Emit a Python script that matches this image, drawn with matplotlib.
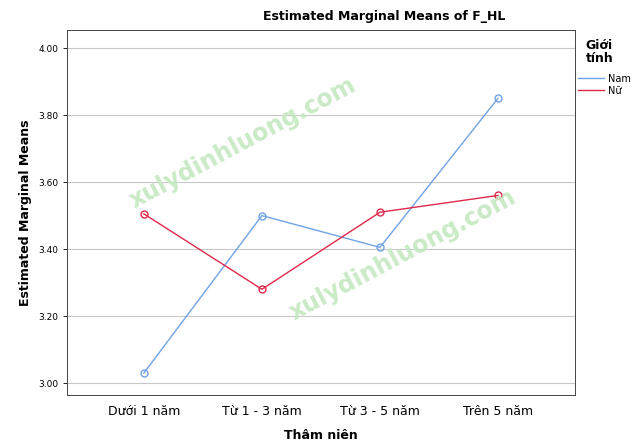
import matplotlib.pyplot as plt
from matplotlib.lines import Line2D

categories = ["Dưới 1 năm", "Từ 1 - 3 năm", "Từ 3 - 5 năm", "Trên 5 năm"]
nam = [3.03, 3.50, 3.405, 3.85]
nu = [3.505, 3.28, 3.51, 3.56]
yticks = [3.00, 3.20, 3.40, 3.60, 3.80, 4.00]

fig = plt.figure(figsize=(6.4, 4.47), dpi=100)
ax = fig.add_axes([0.105, 0.116, 0.793, 0.817])

x = range(len(categories))
ax.plot(x, nam, color="#6fa3e6", lw=1, marker="o", mfc="none", ms=5)
ax.plot(x, nu, color="#e0284a", lw=1, marker="o", mfc="none", ms=5)

ax.set_xlim(-0.65, 3.65)
ax.set_ylim(2.964, 4.054)
ax.set_yticks(yticks)
ax.set_yticklabels([f"{v:.2f}" for v in yticks], fontsize=6.5)
ax.set_xticks(list(x))
ax.set_xticklabels(categories, fontsize=9)
ax.tick_params(axis="y", length=3, width=0.6)
ax.tick_params(axis="x", length=0, pad=7)
ax.grid(axis="y", color="#c8c8c8", lw=0.8)
ax.set_axisbelow(True)
for s in ax.spines.values():
    s.set_color("#444444")
    s.set_linewidth(0.7)

ax.set_xlabel("Thâm niên", fontsize=9, fontweight="bold", labelpad=8)
ax.set_ylabel("Estimated Marginal Means", fontsize=9, fontweight="bold")
fig.text(0.6, 0.955, "Estimated Marginal Means of F_HL", ha="center", fontsize=9, fontweight="bold")

fig.text(0.915, 0.855, "Giới\ntính", fontsize=9, fontweight="bold", va="bottom", linespacing=1.0)
handles = [Line2D([], [], color="#6fa3e6", lw=1), Line2D([], [], color="#e0284a", lw=1)]
fig.legend(handles, ["Nam", "Nữ"], loc="upper left", bbox_to_anchor=(0.89, 0.855),
           frameon=False, fontsize=7, handlelength=2.6, handletextpad=0.5, labelspacing=0.2)

wm = dict(color="#c4e8c0", fontsize=17, fontweight="bold", rotation=28, alpha=0.9,
          ha="center", va="center", transform=fig.transFigure, zorder=5)
fig.text(0.38, 0.68, "xulydinhluong.com", **wm)
fig.text(0.63, 0.43, "xulydinhluong.com", **wm)

fig.savefig("out.png", dpi=100)
